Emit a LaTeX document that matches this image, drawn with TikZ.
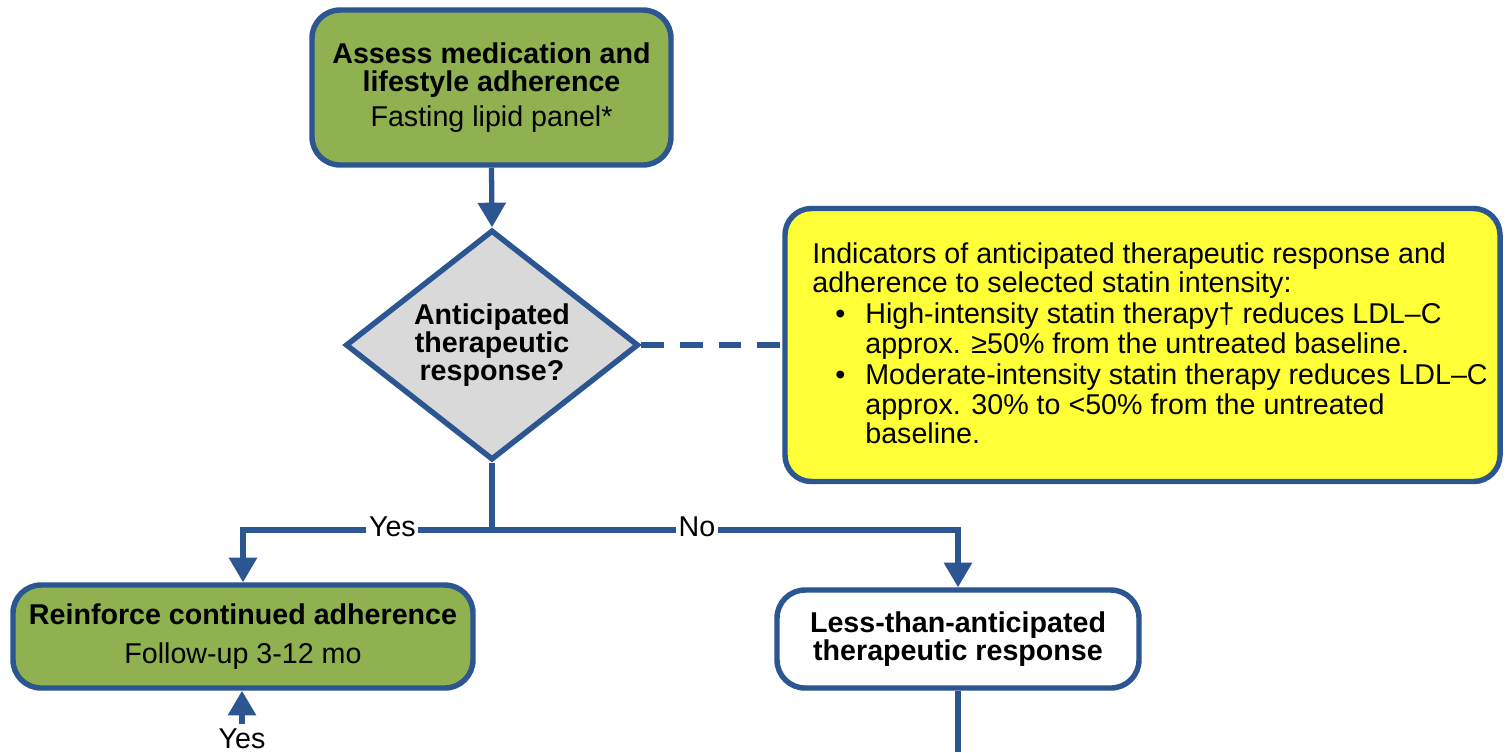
\documentclass[tikz,border=0pt]{standalone}
\usepackage{fontspec}
\setmainfont{Liberation Sans}
\usetikzlibrary{shapes.geometric,arrows.meta}

\definecolor{flowblue}{RGB}{43,86,145}
\definecolor{boxgreen}{RGB}{143,177,79}
\definecolor{noteyellow}{RGB}{255,255,55}
\definecolor{decgray}{RGB}{217,217,217}

\newcommand{\px}{0.02cm}

\tikzset{
  basefont/.style={font=\fontsize{16.3}{15.9}\selectfont},
  stepbox/.style={draw=flowblue, line width=3.1pt, rounded corners=16pt,
    align=center, inner sep=0pt, text=black, basefont},
  greenbox/.style={stepbox, fill=boxgreen},
  whitebox/.style={stepbox, fill=white},
  decision/.style={diamond, aspect=1.27, draw=flowblue, fill=decgray,
    line width=3.1pt, inner sep=0pt, align=center,
    font=\bfseries\fontsize{16.3}{15.8}\selectfont},
  notebox/.style={draw=flowblue, fill=noteyellow, line width=3.1pt,
    rounded corners=15pt},
  conn/.style={draw=flowblue, line width=3pt},
  flow/.style={conn, -{Triangle[length=14pt,width=15.5pt]}},
  branchlabel/.style={fill=white, inner sep=1.5pt, basefont},
}

\begin{document}
\begin{tikzpicture}[x=\px, y=-\px]
  \fill[white] (0,0) rectangle (1506,752);
  \useasboundingbox (0,0) rectangle (1506,752);

  % process steps and decision
  \node[greenbox, minimum width=359*\px, minimum height=155*\px] (assess)
    at (491.5,87.5)
    {\textbf{Assess medication and}\\\textbf{lifestyle adherence}\\[4pt]Fasting lipid panel*};

  \node[decision, minimum width=293*\px, minimum height=230*\px] (resp)
    at (492,345) {Anticipated\\therapeutic\\response?};

  \node[greenbox, minimum width=460*\px, minimum height=103*\px] (reinforce)
    at (243,636.5)
    {\textbf{Reinforce continued adherence}\\[6pt]Follow-up 3-12 mo};

  \node[whitebox, minimum width=362*\px, minimum height=98*\px] (lessthan)
    at (958,639)
    {\textbf{Less-than-anticipated}\\\textbf{therapeutic response}};

  % note on expected response
  \node[notebox, minimum width=715*\px, minimum height=273*\px] (note)
    at (1142.5,345) {};
  \node[anchor=base west, inner sep=0pt, text=black, basefont] (notetext) at (812,263)
    {\parbox[t]{13.8cm}{\fontsize{16.3}{16.6}\selectfont\raggedright
      Indicators of anticipated therapeutic response and\\
      adherence to selected statin intensity:\\[1.5pt]
      \hspace*{0.46cm}\makebox[0.6cm][l]{•}High-intensity statin therapy† reduces LDL–C\\
      \hspace*{1.06cm}approx. ≥50\% from the untreated baseline.\\[1.5pt]
      \hspace*{0.46cm}\makebox[0.6cm][l]{•}Moderate-intensity statin therapy reduces LDL–C\\
      \hspace*{1.06cm}approx. 30\% to <50\% from the untreated\\
      \hspace*{1.06cm}baseline.}};

  % connectors
  \coordinate (split) at (492,530);
  \coordinate (rbottom) at (958,752);

  \draw[flow] (assess.south) -- (resp.north);
  \draw[conn, dash pattern=on 13pt off 9pt] (resp.east) -- (note.west);
  \draw[conn] (resp.south) -- (split);
  \draw[flow] (split) -| node[branchlabel, pos=0.2, yshift=2pt] {Yes} (reinforce.north);
  \draw[flow] (split) -| node[branchlabel, pos=0.22, yshift=2pt] {No} (lessthan.north);
  \draw[conn] (lessthan.south) -- (rbottom);

  \node[anchor=base, inner sep=2pt, basefont] (yesloop) at (242,748) {Yes};
  \draw[flow] (yesloop.north) -- (yesloop.north |- reinforce.south);
\end{tikzpicture}
\end{document}
